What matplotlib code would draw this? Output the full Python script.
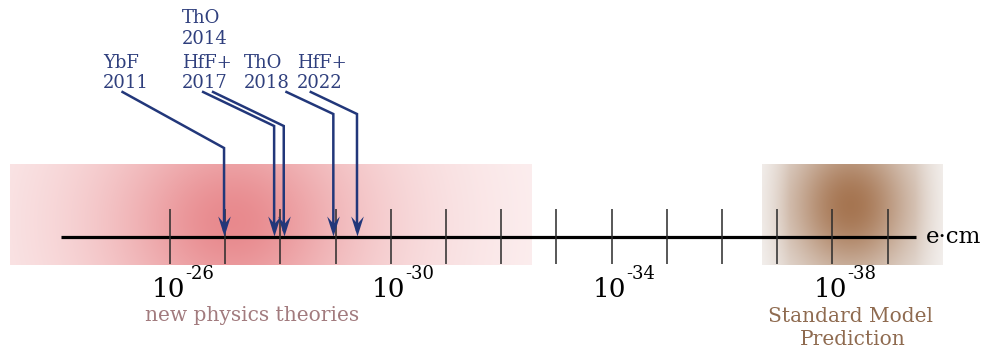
import numpy as np
import matplotlib
matplotlib.use("Agg")
import matplotlib.pyplot as plt
from matplotlib.path import Path

plt.rcParams["font.family"] = "DejaVu Serif"

# electron EDM upper limits (e*cm)
experiments = ["YbF", "ThO", "HfF+", "ThO", "HfF+"]
years = ["2011", "2014", "2017", "2018", "2022"]
limits = [1.05e-27, 8.7e-29, 1.3e-28, 1.1e-29, 4.1e-30]

tick_exps = np.arange(26, 40)
label_exps = [26, 30, 34, 38]

# label / leader layout: x in -log10 units, y in rows from the top
text_x = [24.79, 26.22, 26.22, 27.34, 28.30]
text_y = [68, 23, 68, 68, 68]
lead_x = [25.14, 26.78, 26.60, 28.11, 28.55]
elbow_y = [148, 126, 126, 114, 114]

NAVY = "#22377a"
NAVY_TXT = "#2f3f7d"


def gradient_band(ax, x0, x1, y0, y1, cx, cy, sx, sy, rgb, edge_rgb, kind):
    xs = np.linspace(x0, x1, 600)
    ys = np.linspace(y0, y1, 120)
    X, Y = np.meshgrid(xs, ys)
    d2 = ((X - cx) / sx) ** 2 + ((Y - cy) / sy) ** 2
    if kind == "lorentz":
        w = 1.0 / (1.0 + d2)
    else:
        w = np.exp(-d2)
    base = np.array(rgb)[None, None, :]
    edge = np.array(edge_rgb)[None, None, :]
    img = edge * (1 - w[..., None]) + base * w[..., None]
    if kind == "gauss":
        # soften the left/right borders towards white
        fx = np.clip(np.minimum(X - x0, x1 - X) / 0.5, 0, 1)
        img = 1 - (1 - img) * (0.55 + 0.45 * fx[..., None])
    ax.imshow(img, extent=(x0, x1, y1, y0), origin="upper", aspect="auto",
              interpolation="bilinear", zorder=0)


fig = plt.figure(figsize=(9.84, 3.51), dpi=100)
ax = fig.add_axes([0, 0, 1, 1])
ax.set_xlim(22.92, 40.746)
ax.set_ylim(351, 0)
ax.axis("off")

# shaded regions: new physics predictions and the SM expectation
gradient_band(ax, 23.10, 32.54, 164, 265, 27.12, 222, 2.35, 115,
              (0.91, 0.54, 0.555), (1.0, 1.0, 1.0), "lorentz")
gradient_band(ax, 36.72, 39.99, 164, 265, 38.32, 205, 1.15, 75,
              (0.65, 0.46, 0.32), (0.93, 0.915, 0.905), "gauss")

# number line
ax.plot([24.03, 39.52], [237, 237], color="black", lw=2.3, solid_capstyle="butt", zorder=2)
ax.vlines(tick_exps, 209, 264, color="#2a2a2a", lw=1.1, zorder=2)

for e in label_exps:
    ax.text(e + 0.27, 297, "10", ha="right", va="baseline", fontsize=19, color="black")
    ax.text(e + 0.27, 279, f"-{e}", ha="left", va="baseline", fontsize=13, color="black")

ax.text(39.696, 243, "e·cm", ha="left", va="baseline", fontsize=16.5, color="black")

ax.text(27.485, 321, "new physics theories", ha="center", va="baseline",
        fontsize=14.5, color="#a27b7e")
ax.text(38.32, 322, "Standard Model", ha="center", va="baseline", fontsize=14.5, color="#8f6b50")
ax.text(38.37, 345, "Prediction", ha="center", va="baseline", fontsize=14.5, color="#8f6b50")

# arrowhead marker, tip at the origin pointing down
head = Path([(0, 0), (-6, 19), (0, 12), (6, 19), (0, 0)],
            [Path.MOVETO, Path.LINETO, Path.LINETO, Path.LINETO, Path.CLOSEPOLY])

tip_y = 236
shown = set()
for name, yr, lim, tx, ty, lx, ey in zip(experiments, years, limits, text_x, text_y, lead_x, elbow_y):
    m = -np.log10(lim)
    if (tx, ty) not in shown:
        ax.text(tx, ty, name, ha="left", va="baseline", fontsize=13, color=NAVY_TXT)
        ax.text(tx, ty + 20.5, yr, ha="left", va="baseline", fontsize=13, color=NAVY_TXT)
        shown.add((tx, ty))
    ax.plot([lx, m, m], [92, ey, tip_y - 6], color=NAVY, lw=1.8, zorder=3,
            solid_joinstyle="miter")
    ax.plot([m], [tip_y], marker=head, markersize=2 * 20 * 0.72, color=NAVY,
            markeredgewidth=0, zorder=4)

fig.savefig("out.png", dpi=100)
